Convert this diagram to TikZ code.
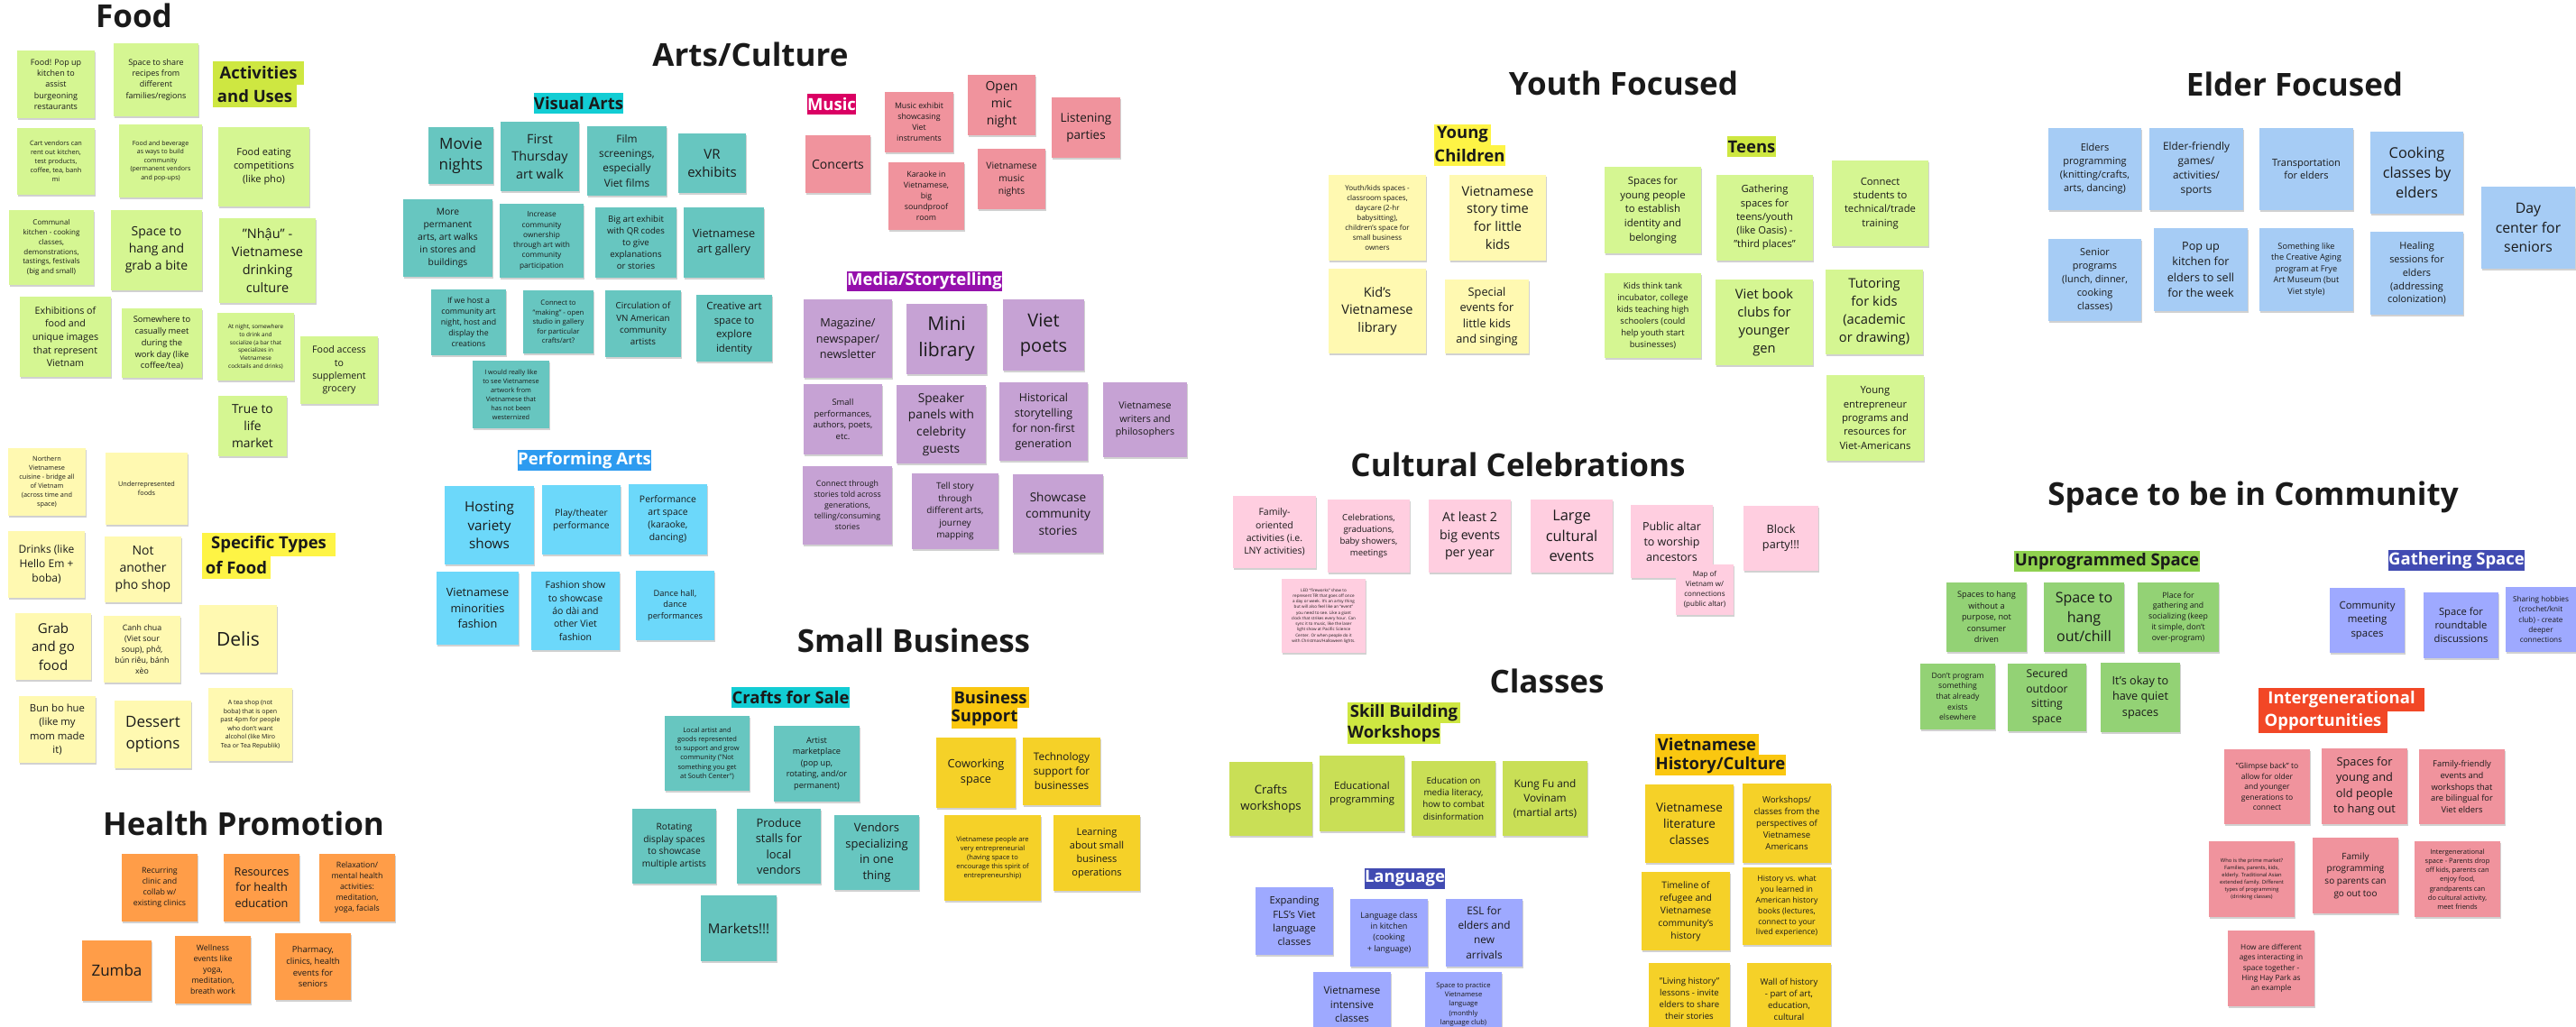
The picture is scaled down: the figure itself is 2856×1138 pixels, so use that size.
\documentclass[tikz,border=0pt]{standalone}
\usepackage{fontspec}
\setmainfont{Open Sans}
\usetikzlibrary{shadows}
\definecolor{cLGreen}{HTML}{D5F692}
\definecolor{cLYellow}{HTML}{FFF9B1}
\definecolor{cTeal}{HTML}{67C6C0}
\definecolor{cRed}{HTML}{F0939D}
\definecolor{cViolet}{HTML}{C6A2D4}
\definecolor{cCyan}{HTML}{6CD8FA}
\definecolor{cBlue}{HTML}{A6CCF5}
\definecolor{cOrange}{HTML}{FF9D48}
\definecolor{cYellow}{HTML}{F5D128}
\definecolor{cLime}{HTML}{C9DF56}
\definecolor{cPeri}{HTML}{9EA9FF}
\definecolor{cPink}{HTML}{FFCEE0}
\definecolor{cGreen}{HTML}{93D275}
\definecolor{hLime}{HTML}{CEE741}
\definecolor{hCyan}{HTML}{12CDD4}
\definecolor{hMagenta}{HTML}{DA0063}
\definecolor{hPurple}{HTML}{9510AC}
\definecolor{hBlue}{HTML}{2D9BF0}
\definecolor{hYellow}{HTML}{FEF445}
\definecolor{hOrange}{HTML}{FAC710}
\definecolor{hNavy}{HTML}{414BB2}
\definecolor{hGreen}{HTML}{8FD14F}
\definecolor{hRed}{HTML}{F24726}
\definecolor{inkc}{HTML}{1A1A1A}
\tikzset{
  stickynote/.style={inner sep=0pt, align=center, text=inkc,
    drop shadow={shadow xshift=0.6pt, shadow yshift=-1.8pt, opacity=0.18, fill=black}},
  lblbox/.style={inner sep=0pt, font=\fontsize{18.5}{22}\selectfont\bfseries},
  ttl/.style={inner sep=0pt, text=inkc, font=\fontsize{35}{42}\selectfont\bfseries}
}
\newcommand\mkstk[8]{%
  \pgfmathsetmacro\stkcx{(#2+#4)/2}%
  \pgfmathsetmacro\stkcy{(#3+#5)/2}%
  \pgfmathsetmacro\stkw{#4-#2}%
  \pgfmathsetmacro\stkh{#5-#3}%
  \pgfmathsetmacro\stkls{#7*1.36}%
  \node[stickynote, fill=#6, minimum width=\stkw pt, minimum height=\stkh pt,
    font=\fontsize{#7}{\stkls}\selectfont] (#1) at (\stkcx,\stkcy) {#8};%
}
\newcommand\mklbl[8]{%
  \pgfmathsetmacro\stkcx{(#2+#4)/2}%
  \pgfmathsetmacro\stkcy{(#3+#5)/2}%
  \pgfmathsetmacro\stkw{#4-#2}%
  \pgfmathsetmacro\stkh{#5-#3}%
  \node[lblbox, fill=#6, text=#7, minimum width=\stkw pt, minimum height=\stkh pt] (#1) at (\stkcx,\stkcy) {#8};%
}
\newcommand\mkttl[4]{\node[ttl, anchor=base] (#1) at (#2,#3) {#4};}
\begin{document}
\begin{tikzpicture}[x=1pt,y=-1pt]
\useasboundingbox[fill=white] (0,0) rectangle (2856,1138);
% ---------- Titles ----------
\mkttl{tFood}{148.5}{30}{Food}
\mkttl{tArts}{832}{73}{Arts/Culture}
\mkttl{tYouth}{1800}{105}{Youth Focused}
\mkttl{tElder}{2544}{106}{Elder Focused}
\mkttl{tCult}{1683}{528}{Cultural Celebrations}
\mkttl{tSpace}{2498}{560}{Space to be in Community}
\mkttl{tBiz}{1013}{723}{Small Business}
\mkttl{tHealth}{270}{926}{Health Promotion}
\mkttl{tClass}{1715}{768}{Classes}
% ---------- Labels ----------
\mklbl{lAct1}{236}{68}{337}{94}{hLime}{inkc}{Activities}
\mklbl{lAct2}{236}{94}{329}{119}{hLime}{inkc}{and Uses}
\mklbl{lVis}{592}{103}{691}{126}{hCyan}{inkc}{Visual Arts}
\mklbl{lMus}{895}{104}{949}{127}{hMagenta}{white}{Music}
\mklbl{lMed}{939}{301}{1111}{323}{hPurple}{white}{Media/Storytelling}
\mklbl{lPerf}{574}{499}{722}{522}{hBlue}{white}{Performing Arts}
\mklbl{lSpec1}{224}{591}{372}{617}{hYellow}{inkc}{Specific Types}
\mklbl{lSpec2}{224}{617}{300}{642}{hYellow}{inkc}{of Food}
\mklbl{lYoung1}{1590}{138}{1653}{161}{hYellow}{inkc}{Young}
\mklbl{lYoung2}{1590}{161}{1669}{184}{hYellow}{inkc}{Children}
\mklbl{lTeens}{1915}{151}{1969}{174}{hLime}{inkc}{Teens}
\mklbl{lCraft}{811}{762}{942}{785}{hCyan}{inkc}{Crafts for Sale}
\mklbl{lBus1}{1055}{762}{1141}{785}{hOrange}{inkc}{Business}
\mklbl{lBus2}{1055}{785}{1128}{808}{hOrange}{inkc}{Support}
\mklbl{lSkill1}{1494}{779}{1619}{802}{hLime}{inkc}{Skill Building}
\mklbl{lSkill2}{1494}{802}{1597}{825}{hLime}{inkc}{Workshops}
\mklbl{lLang}{1513}{963}{1602}{986}{hNavy}{white}{Language}
\mklbl{lHist1}{1835}{814}{1950}{837}{hOrange}{inkc}{Vietnamese}
\mklbl{lHist2}{1835}{837}{1980}{860}{hOrange}{inkc}{History/Culture}
\mklbl{lUnpr}{2233}{611}{2439}{634}{hGreen}{inkc}{Unprogrammed Space}
\mklbl{lGath}{2648}{610}{2799}{633}{hNavy}{white}{Gathering Space}
\mklbl{lInt1}{2504}{763}{2688}{789}{hRed}{white}{Intergenerational}
\mklbl{lInt2}{2504}{789}{2647}{813}{hRed}{white}{Opportunities}
% ---------- Food ----------
\mkstk{f1}{19}{56}{105}{131}{cLGreen}{9}{Food! Pop up\\kitchen to\\assist\\burgeoning\\restaurants}
\mkstk{f2}{126}{48}{220}{129}{cLGreen}{9}{Space to share\\recipes from\\different\\families/regions}
\mkstk{f3}{19}{142}{105}{216}{cLGreen}{7.3}{Cart vendors can\\rent out kitchen,\\test products,\\coffee, tea, banh\\mi}
\mkstk{f4}{132}{138}{224}{219}{cLGreen}{7}{Food and beverage\\as ways to build\\community\\(permanent vendors\\and pop-ups)}
\mkstk{f5}{242}{141}{343}{229}{cLGreen}{11}{Food eating\\competitions\\(like pho)}
\mkstk{f6}{10}{233}{104}{316}{cLGreen}{8}{Communal\\kitchen - cooking\\classes,\\demonstrations,\\tastings, festivals\\(big and small)}
\mkstk{f7}{123}{233}{224}{322}{cLGreen}{14}{Space to\\hang and\\grab a bite}
\mkstk{f8}{243}{242}{350}{336}{cLGreen}{14.5}{"Nhậu" -\\Vietnamese\\drinking\\culture}
\mkstk{f9}{22}{329}{123}{418}{cLGreen}{10.7}{Exhibitions of\\food and\\unique images\\that represent\\Vietnam}
\mkstk{f10}{135}{342}{224}{419}{cLGreen}{9.4}{Somewhere to\\casually meet\\during the\\work day (like\\coffee/tea)}
\mkstk{f11}{241}{347}{326}{422}{cLGreen}{6.4}{At night, somewhere\\to drink and\\socialize (a bar that\\specializes in\\Vietnamese\\cocktails and drinks)}
\mkstk{f12}{333}{373}{419}{448}{cLGreen}{10.6}{Food access\\to\\supplement\\grocery}
\mkstk{f13}{242}{439}{318}{506}{cLGreen}{13.8}{True to\\life\\market}
% ---------- Specific types of food ----------
\mkstk{s1}{9}{497}{95}{572}{cLYellow}{7.3}{Northern\\Vietnamese\\cuisine - bridge all\\of Vietnam\\(across time and\\space)}
\mkstk{s2}{117}{502}{208}{582}{cLYellow}{7.3}{Underrepresented\\foods}
\mkstk{s3}{9}{589}{94}{663}{cLYellow}{12}{Drinks (like\\Hello Em +\\boba)}
\mkstk{s4}{116}{595}{201}{668}{cLYellow}{14}{Not\\another\\pho shop}
\mkstk{s5}{17}{680}{101}{754}{cLYellow}{15}{Grab\\and go\\food}
\mkstk{s6}{115}{683}{200}{757}{cLYellow}{8.8}{Canh chua\\(Viet sour\\soup), phở,\\bún riêu, bánh\\xèo}
\mkstk{s7}{221}{671}{307}{746}{cLYellow}{21}{Delis}
\mkstk{s8}{21}{772}{106}{846}{cLYellow}{11.3}{Bun bo hue\\(like my\\mom made\\it)}
\mkstk{s9}{127}{777}{212}{852}{cLYellow}{17}{Dessert\\options}
\mkstk{s10}{231}{763}{324}{844}{cLYellow}{7}{A tea shop (not\\boba) that is open\\past 4pm for people\\who don't want\\alcohol (like Miro\\Tea or Tea Republik)}
% ---------- Visual arts ----------
\mkstk{v1}{475}{141}{547}{204}{cTeal}{17}{Movie\\nights}
\mkstk{v2}{555}{135}{642}{212}{cTeal}{14.3}{First\\Thursday\\art walk}
\mkstk{v3}{651}{140}{739}{217}{cTeal}{11.8}{Film\\screenings,\\especially\\Viet films}
\mkstk{v4}{752}{148}{827}{214}{cTeal}{15}{VR\\exhibits}
\mkstk{v5}{447}{221}{546}{307}{cTeal}{10.3}{More\\permanent\\arts, art walks\\in stores and\\buildings}
\mkstk{v6}{554}{226}{647}{308}{cTeal}{8.3}{Increase\\community\\ownership\\through art with\\community\\participation}
\mkstk{v7}{660}{230}{750}{308}{cTeal}{9.6}{Big art exhibit\\with QR codes\\to give\\explanations\\or stories}
\mkstk{v8}{758}{230}{847}{308}{cTeal}{12.7}{Vietnamese\\art gallery}
\mkstk{v9}{478}{321}{561}{394}{cTeal}{8.8}{If we host a\\community art\\night, host and\\display the\\creations}
\mkstk{v10}{580}{322}{658}{392}{cTeal}{7.7}{Connect to\\"making" - open\\studio in gallery\\for particular\\crafts/art?}
\mkstk{v11}{671}{322}{755}{396}{cTeal}{9.8}{Circulation of\\VN American\\community\\artists}
\mkstk{v12}{772}{327}{856}{401}{cTeal}{11.4}{Creative art\\space to\\explore\\identity}
\mkstk{v13}{524}{400}{609}{475}{cTeal}{7.3}{I would really like\\to see Vietnamese\\artwork from\\Vietnamese that\\has not been\\westernized}
% ---------- Music ----------
\mkstk{m1}{893}{150}{965}{214}{cRed}{14}{Concerts}
\mkstk{m2}{981}{102}{1057}{169}{cRed}{8.8}{Music exhibit\\showcasing\\Viet\\instruments}
\mkstk{m3}{1073}{83}{1148}{150}{cRed}{14}{Open\\mic\\night}
\mkstk{m4}{1166}{108}{1242}{175}{cRed}{13.5}{Listening\\parties}
\mkstk{m5}{985}{180}{1069}{255}{cRed}{8.8}{Karaoke in\\Vietnamese,\\big\\soundproof\\room}
\mkstk{m6}{1084}{165}{1159}{232}{cRed}{10.3}{Vietnamese\\music\\nights}
% ---------- Media ----------
\mkstk{d1}{891}{332}{989}{419}{cViolet}{12.7}{Magazine/\\newspaper/\\newsletter}
\mkstk{d2}{1005}{337}{1094}{415}{cViolet}{21}{Mini\\library}
\mkstk{d3}{1112}{332}{1202}{411}{cViolet}{20}{Viet\\poets}
\mkstk{d4}{891}{426}{978}{504}{cViolet}{9.4}{Small\\performances,\\authors, poets,\\etc.}
\mkstk{d5}{994}{427}{1093}{514}{cViolet}{13.7}{Speaker\\panels with\\celebrity\\guests}
\mkstk{d6}{1108}{424}{1206}{511}{cViolet}{12.4}{Historical\\storytelling\\for non-first\\generation}
\mkstk{d7}{1223}{424}{1316}{507}{cViolet}{10.7}{Vietnamese\\writers and\\philosophers}
\mkstk{d8}{890}{517}{989}{604}{cViolet}{8.8}{Connect through\\stories told across\\generations,\\telling/consuming\\stories}
\mkstk{d9}{1011}{525}{1107}{609}{cViolet}{10}{Tell story\\through\\different arts,\\journey\\mapping}
\mkstk{d10}{1123}{526}{1223}{613}{cViolet}{13.6}{Showcase\\community\\stories}
% ---------- Performing arts ----------
\mkstk{p1}{493}{539}{592}{626}{cCyan}{15.3}{Hosting\\variety\\shows}
\mkstk{p2}{601}{538}{688}{615}{cCyan}{10.3}{Play/theater\\performance}
\mkstk{p3}{697}{537}{784}{615}{cCyan}{10.4}{Performance\\art space\\(karaoke,\\dancing)}
\mkstk{p4}{484}{634}{575}{715}{cCyan}{12.7}{Vietnamese\\minorities\\fashion}
\mkstk{p5}{589}{634}{687}{721}{cCyan}{10.5}{Fashion show\\to showcase\\áo dài and\\other Viet\\fashion}
\mkstk{p6}{705}{633}{792}{710}{cCyan}{9.3}{Dance hall,\\dance\\performances}
% ---------- Health ----------
\mkstk{h1}{135}{947}{219}{1022}{cOrange}{8.8}{Recurring\\clinic and\\collab w/\\existing clinics}
\mkstk{h2}{248}{947}{332}{1022}{cOrange}{12.7}{Resources\\for health\\education}
\mkstk{h3}{354}{947}{438}{1022}{cOrange}{8.8}{Relaxation/\\mental health\\activities:\\meditation,\\yoga, facials}
\mkstk{h4}{91}{1043}{168}{1110}{cOrange}{17}{Zumba}
\mkstk{h5}{194}{1038}{278}{1113}{cOrange}{8.8}{Wellness\\events like\\yoga,\\meditation,\\breath work}
\mkstk{h6}{305}{1035}{389}{1109}{cOrange}{9.5}{Pharmacy,\\clinics, health\\events for\\seniors}
% ---------- Crafts for sale ----------
\mkstk{c1}{737}{794}{831}{877}{cTeal}{7.5}{Local artist and\\goods represented\\to support and grow\\community ("Not\\something you get\\at South Center")}
\mkstk{c2}{858}{805}{953}{889}{cTeal}{9.2}{Artist\\marketplace\\(pop up,\\rotating, and/or\\permanent)}
\mkstk{c3}{701}{897}{794}{980}{cTeal}{10.2}{Rotating\\display spaces\\to showcase\\multiple artists}
\mkstk{c4}{817}{897}{910}{980}{cTeal}{12.9}{Produce\\stalls for\\local\\vendors}
\mkstk{c5}{925}{904}{1019}{987}{cTeal}{13}{Vendors\\specializing\\in one\\thing}
\mkstk{c6}{777}{993}{861}{1066}{cTeal}{15}{Markets!!!}
% ---------- Business support ----------
\mkstk{b1}{1038}{818}{1126}{896}{cYellow}{12.7}{Coworking\\space}
\mkstk{b2}{1134}{818}{1220}{893}{cYellow}{11.8}{Technology\\support for\\businesses}
\mkstk{b3}{1047}{904}{1154}{999}{cYellow}{7.5}{Vietnamese people are\\very entrepreneurial\\(having space to\\encourage this spirit of\\entrepreneurship)}
\mkstk{b4}{1168}{904}{1264}{988}{cYellow}{11}{Learning\\about small\\business\\operations}
% ---------- Classes: skill building ----------
\mkstk{k1}{1363}{845}{1455}{927}{cLime}{13.2}{Crafts\\workshops}
\mkstk{k2}{1463}{838}{1557}{922}{cLime}{11.3}{Educational\\programming}
\mkstk{k3}{1565}{844}{1658}{927}{cLime}{9.8}{Education on\\media literacy,\\how to combat\\disinformation}
\mkstk{k4}{1666}{844}{1760}{927}{cLime}{11.8}{Kung Fu and\\Vovinam\\(martial arts)}
% ---------- Classes: language ----------
\mkstk{l1}{1392}{984}{1478}{1059}{cPeri}{11.2}{Expanding\\FLS's Viet\\language\\classes}
\mkstk{l2}{1497}{997}{1583}{1072}{cPeri}{9}{Language class\\in kitchen\\(cooking\\+ language)}
\mkstk{l3}{1603}{997}{1688}{1072}{cPeri}{11.8}{ESL for\\elders and\\new\\arrivals}
\mkstk{l4}{1456}{1078}{1542}{1150}{cPeri}{11.5}{Vietnamese\\intensive\\classes}
\mkstk{l5}{1580}{1078}{1665}{1150}{cPeri}{7.6}{Space to practice\\Vietnamese\\language\\(monthly\\language club)}
% ---------- Classes: history ----------
\mkstk{t1}{1824}{870}{1922}{957}{cYellow}{13.5}{Vietnamese\\literature\\classes}
\mkstk{t2}{1932}{869}{2030}{957}{cYellow}{9.6}{Workshops/\\classes from the\\perspectives of\\Vietnamese\\Americans}
\mkstk{t3}{1820}{967}{1918}{1054}{cYellow}{10.3}{Timeline of\\refugee and\\Vietnamese\\community's\\history}
\mkstk{t4}{1932}{962}{2030}{1048}{cYellow}{8.7}{History vs. what\\you learned in\\American history\\books (lectures,\\connect to your\\lived experience)}
\mkstk{t5}{1828}{1068}{1918}{1147}{cYellow}{9.6}{"Living history"\\lessons - invite\\elders to share\\their stories}
\mkstk{t6}{1937}{1068}{2030}{1148}{cYellow}{9.6}{Wall of history\\- part of art,\\education,\\cultural}
% ---------- Cultural celebrations ----------
\mkstk{r1}{1367}{550}{1459}{630}{cPink}{10.5}{Family-\\oriented\\activities (i.e.\\LNY activities)}
\mkstk{r2}{1421}{642}{1514}{724}{cPink}{4.6}{LED “fireworks” show to\\represent Tết that goes off once\\a day or week. It's an artsy thing\\but will also feel like an “event”\\you need to see. Like a giant\\clock that strikes every hour. Can\\sync it to music, like the laser\\light show at Pacific Science\\Center. Or when people do it\\with Christmas/Halloween lights.}
\mkstk{r3}{1472}{554}{1563}{635}{cPink}{9.6}{Celebrations,\\graduations,\\baby showers,\\meetings}
\mkstk{r4}{1584}{554}{1675}{635}{cPink}{14.2}{At least 2\\big events\\per year}
\mkstk{r5}{1697}{554}{1788}{635}{cPink}{16.4}{Large\\cultural\\events}
\mkstk{r6}{1808}{560}{1899}{641}{cPink}{12.5}{Public altar\\to worship\\ancestors}
\mkstk{r7}{1858}{626}{1922}{682}{cPink}{8}{Map of\\Vietnam w/\\connections\\(public altar)}
\mkstk{r8}{1933}{561}{2016}{633}{cPink}{12.7}{Block\\party!!!}
% ---------- Youth ----------
\mkstk{yc1}{1473}{194}{1581}{289}{cLYellow}{8}{Youth/kids spaces -\\classroom spaces,\\daycare (2-hr\\babysitting),\\children's space for\\small business\\owners}
\mkstk{yc2}{1607}{194}{1714}{289}{cLYellow}{14.6}{Vietnamese\\story time\\for little\\kids}
\mkstk{yc3}{1473}{298}{1581}{392}{cLYellow}{14.5}{Kid's\\Vietnamese\\library}
\mkstk{yc4}{1602}{310}{1695}{392}{cLYellow}{12.8}{Special\\events for\\little kids\\and singing}
\mkstk{te1}{1779}{185}{1886}{281}{cLGreen}{11.4}{Spaces for\\young people\\to establish\\identity and\\belonging}
\mkstk{te2}{1903}{194}{2010}{289}{cLGreen}{11.2}{Gathering\\spaces for\\teens/youth\\(like Oasis) -\\"third places"}
\mkstk{te3}{2031}{178}{2138}{273}{cLGreen}{11.3}{Connect\\students to\\technical/trade\\training}
\mkstk{te4}{1779}{303}{1886}{397}{cLGreen}{9.5}{Kids think tank\\incubator, college\\kids teaching high\\schoolers (could\\help youth start\\businesses)}
\mkstk{te5}{1902}{310}{2010}{405}{cLGreen}{14.7}{Viet book\\clubs for\\younger\\gen}
\mkstk{te6}{2024}{299}{2132}{393}{cLGreen}{14.7}{Tutoring\\for kids\\(academic\\or drawing)}
\mkstk{te7}{2025}{416}{2133}{511}{cLGreen}{11.3}{Young\\entrepreneur\\programs and\\resources for\\Viet-Americans}
% ---------- Elder ----------
\mkstk{e1}{2271}{142}{2374}{233}{cBlue}{11}{Elders\\programming\\(knitting/crafts,\\arts, dancing)}
\mkstk{e2}{2383}{142}{2487}{233}{cBlue}{11.8}{Elder-friendly\\games/\\activities/\\sports}
\mkstk{e3}{2505}{142}{2609}{233}{cBlue}{11}{Transportation\\for elders}
\mkstk{e4}{2628}{146}{2731}{237}{cBlue}{16.3}{Cooking\\classes by\\elders}
\mkstk{e5}{2751}{207}{2855}{298}{cBlue}{15.8}{Day\\center for\\seniors}
\mkstk{e6}{2271}{265}{2374}{356}{cBlue}{10.9}{Senior\\programs\\(lunch, dinner,\\cooking\\classes)}
\mkstk{e7}{2388}{253}{2492}{345}{cBlue}{12.6}{Pop up\\kitchen for\\elders to sell\\for the week}
\mkstk{e8}{2505}{253}{2609}{345}{cBlue}{9.2}{Something like\\the Creative Aging\\program at Frye\\Art Museum (but\\Viet style)}
\mkstk{e9}{2628}{257}{2731}{349}{cBlue}{10.9}{Healing\\sessions for\\elders\\(addressing\\colonization)}
% ---------- Space to be in community ----------
\mkstk{u1}{2158}{646}{2247}{723}{cGreen}{9.2}{Spaces to hang\\without a\\purpose, not\\consumer\\driven}
\mkstk{u2}{2266}{646}{2355}{723}{cGreen}{16}{Space to\\hang\\out/chill}
\mkstk{u3}{2370}{646}{2460}{723}{cGreen}{8.7}{Place for\\gathering and\\socializing (keep\\it simple, don't\\over-program)}
\mkstk{u4}{2129}{736}{2212}{809}{cGreen}{8.6}{Don't program\\something\\that already\\exists\\elsewhere}
\mkstk{u5}{2226}{736}{2313}{811}{cGreen}{12.2}{Secured\\outdoor\\sitting\\space}
\mkstk{u6}{2329}{735}{2417}{812}{cGreen}{12.7}{It's okay to\\have quiet\\spaces}
\mkstk{g1}{2583}{652}{2666}{724}{cPeri}{11.4}{Community\\meeting\\spaces}
\mkstk{g2}{2687}{657}{2770}{730}{cPeri}{11.2}{Space for\\roundtable\\discussions}
\mkstk{g3}{2778}{651}{2856}{723}{cPeri}{8.2}{Sharing hobbies\\(crochet/knit\\club) - create\\deeper\\connections}
\mkstk{i1}{2466}{831}{2561}{914}{cRed}{8.5}{"Glimpse back" to\\allow for older\\and younger\\generations to\\connect}
\mkstk{i2}{2574}{830}{2669}{914}{cRed}{12.8}{Spaces for\\young and\\old people\\to hang out}
\mkstk{i3}{2682}{831}{2777}{914}{cRed}{9.4}{Family-friendly\\events and\\workshops that\\are bilingual for\\Viet elders}
\mkstk{i4}{2449}{933}{2544}{1017}{cRed}{5.8}{Who is the prime market?\\Families, parents, kids,\\elderly. Traditional Asian\\extended family. Different\\types of programming\\(drinking classes)}
\mkstk{i5}{2564}{929}{2659}{1013}{cRed}{10}{Family\\programming\\so parents can\\go out too}
\mkstk{i6}{2677}{933}{2772}{1017}{cRed}{7.5}{Intergenerational\\space - Parents drop\\off kids, parents can\\enjoy food,\\grandparents can\\do cultural activity,\\meet friends}
\mkstk{i7}{2470}{1032}{2566}{1116}{cRed}{8.3}{How are different\\ages interacting in\\space together -\\Hing Hay Park as\\an example}
\end{tikzpicture}
\end{document}
